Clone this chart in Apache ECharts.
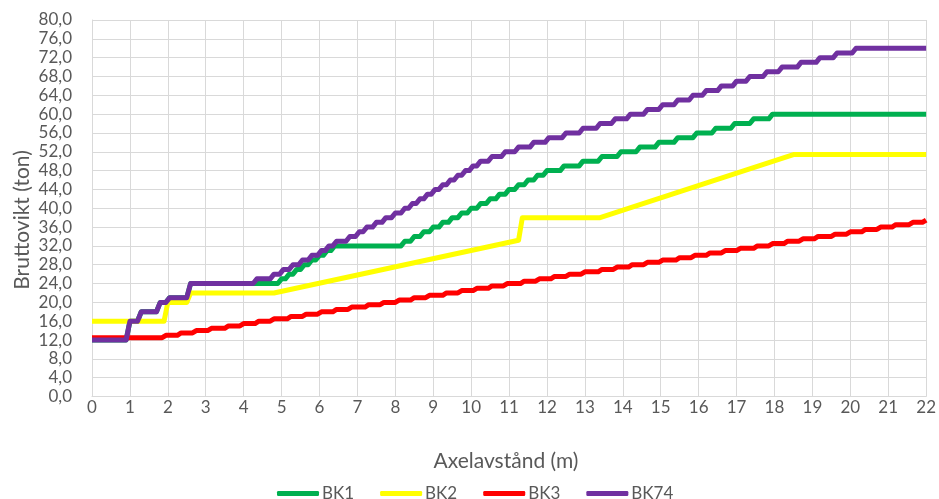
<!DOCTYPE html>
<html>
<head>
<meta charset="utf-8">
<script src="https://cdn.jsdelivr.net/npm/echarts@6.0.0/dist/echarts.min.js"></script>
<style>
  html, body { margin: 0; padding: 0; background: #ffffff; }
  #chart { width: 939px; height: 499px; }
</style>
</head>
<body>
<div id="chart"></div>
<script>
// Gross weight (ton) against axle spacing (m) for each bearing class.
// Each pair of arrays lists the spacing where a new weight starts and that weight.

const seriesNames = ['BK1', 'BK2', 'BK3', 'BK74'];

const bk1Dist = [0, 0.95, 1.25, 1.75, 2.0, 2.55,
  4.95, 5.15, 5.35, 5.55, 5.75, 5.95, 6.15, 6.35,
  8.2, 8.45, 8.7, 8.95, 9.2, 9.45, 9.7, 9.95, 10.2, 10.45, 10.7, 10.95, 11.2, 11.45, 11.7, 11.95,
  12.4, 12.9, 13.4, 13.9, 14.4, 14.9, 15.4, 15.9, 16.4, 16.9, 17.4, 17.9, 22];
const bk1Ton = [12, 16, 18, 20, 21, 24,
  25, 26, 27, 28, 29, 30, 31, 32,
  33, 34, 35, 36, 37, 38, 39, 40, 41, 42, 43, 44, 45, 46, 47, 48,
  49, 50, 51, 52, 53, 54, 55, 56, 57, 58, 59, 60, 60];

// BK2 is drawn as a straight polyline between these points
const bk2Dist = [0, 1.9, 2.0, 2.5, 2.6, 4.8, 11.25, 11.35, 13.4, 18.5, 22];
const bk2Ton  = [16, 16, 20, 20, 22, 22, 33.2, 38, 38, 51.4, 51.4];

const bk3Dist = [0, 1.9, 2.3, 2.7, 3.1, 3.55, 3.95, 4.35, 4.75, 5.2, 5.6,
  6.0, 6.4, 6.8, 7.25, 7.65, 8.05, 8.45, 8.85, 9.3, 9.7,
  10.1, 10.5, 10.9, 11.35, 11.75, 12.15, 12.55, 12.95, 13.4, 13.8,
  14.2, 14.6, 15.0, 15.45, 15.85, 16.25, 16.65, 17.05, 17.5, 17.9,
  18.3, 18.7, 19.1, 19.55, 19.95, 20.35, 20.75, 21.15, 21.6, 21.95, 22];
const bk3Ton = [12.5, 13, 13.5, 14, 14.5, 15, 15.5, 16, 16.5, 17, 17.5,
  18, 18.5, 19, 19.5, 20, 20.5, 21, 21.5, 22, 22.5,
  23, 23.5, 24, 24.5, 25, 25.5, 26, 26.5, 27, 27.5,
  28, 28.5, 29, 29.5, 30, 30.5, 31, 31.5, 32, 32.5,
  33, 33.5, 34, 34.5, 35, 35.5, 36, 36.5, 37, 37.5, 37.5];

const bk74Dist = [0, 0.95, 1.25, 1.75, 2.0, 2.55,
  4.3, 4.75, 5.0, 5.25, 5.5, 5.75, 6.0, 6.2, 6.4, 6.75, 7.0, 7.2, 7.45, 7.7, 7.95,
  8.2, 8.4, 8.6, 8.8, 9.0, 9.2, 9.4, 9.6, 9.8, 10.0, 10.2, 10.5, 10.85, 11.2, 11.6, 12.0,
  12.45, 12.9, 13.35, 13.75, 14.15, 14.6, 15.0, 15.4, 15.8, 16.15, 16.55, 16.95,
  17.3, 17.75, 18.15, 18.65, 19.15, 19.6, 20.1, 22];
const bk74Ton = [12, 16, 18, 20, 21, 24,
  25, 26, 27, 28, 29, 30, 31, 32, 33, 34, 35, 36, 37, 38, 39,
  40, 41, 42, 43, 44, 45, 46, 47, 48, 49, 50, 51, 52, 53, 54, 55,
  56, 57, 58, 59, 60, 61, 62, 63, 64, 65, 66, 67,
  68, 69, 70, 71, 72, 73, 74, 74];

const seriesColors = ['#00B050', '#FFFF00', '#FF0000', '#7030A0'];

const xMin = 0, xMax = 22, xStep = 1;
const yMin = 0, yMax = 80, yStep = 4;

const textColor = '#595959';
const gridColor = '#D9D9D9';
const fontFamily = 'Lato, "Open Sans", sans-serif';

// Table rows are sampled every 0.1 m, so a weight change shows as a short
// sloping riser spanning the sample interval around each breakpoint.
const riserHalf = 0.05;

function pairs(xs, ys) {
  return xs.map((x, i) => [x, ys[i]]);
}

function stepped(xs, ys) {
  const out = [[xs[0], ys[0]]];
  for (let i = 1; i < xs.length; i++) {
    if (ys[i] !== ys[i - 1]) {
      out.push([xs[i] - riserHalf, ys[i - 1]]);
      out.push([Math.min(xs[i] + riserHalf, xMax), ys[i]]);
    } else {
      out.push([xs[i], ys[i]]);
    }
  }
  return out;
}

const seriesData = [
  stepped(bk1Dist, bk1Ton),
  pairs(bk2Dist, bk2Ton),
  stepped(bk3Dist, bk3Ton),
  stepped(bk74Dist, bk74Ton)
];

const chart = echarts.init(document.getElementById('chart'), null, { renderer: 'canvas' });

chart.setOption({
  animation: false,
  backgroundColor: '#ffffff',
  grid: { left: 92, right: 9, top: 20, bottom: 102.5, containLabel: false },
  xAxis: {
    type: 'value',
    min: xMin, max: xMax, interval: xStep,
    axisLine: { show: true, lineStyle: { color: gridColor, width: 1 } },
    axisTick: { show: false },
    splitLine: { show: true, lineStyle: { color: gridColor, width: 1 } },
    axisLabel: { color: textColor, fontSize: 17, fontFamily: fontFamily, margin: 3 }
  },
  yAxis: {
    type: 'value',
    min: yMin, max: yMax, interval: yStep,
    axisLine: { show: true, lineStyle: { color: gridColor, width: 1 } },
    axisTick: { show: false },
    splitLine: { show: true, lineStyle: { color: gridColor, width: 1 } },
    axisLabel: {
      color: textColor, fontSize: 17, fontFamily: fontFamily, margin: 20,
      formatter: v => v.toFixed(1).replace('.', ',')
    }
  },
  legend: {
    data: seriesNames,
    left: 272,
    top: 480,
    icon: 'roundRect',
    itemWidth: 42,
    itemHeight: 5,
    itemGap: 26,
    textStyle: { color: textColor, fontSize: 17, fontFamily: fontFamily, padding: [0, 0, 0, -2] }
  },
  graphic: [
    {
      type: 'text',
      x: 22, y: 220,
      rotation: Math.PI / 2,
      style: {
        text: 'Bruttovikt (ton)', fill: textColor, fontSize: 21, fontFamily: fontFamily,
        align: 'center', verticalAlign: 'middle'
      }
    },
    {
      type: 'text',
      x: 506, y: 461,
      style: {
        text: 'Axelavstånd (m)', fill: textColor, fontSize: 21, fontFamily: fontFamily,
        align: 'center', verticalAlign: 'middle'
      }
    }
  ],
  series: seriesNames.map((name, i) => ({
    name: name,
    type: 'line',
    data: seriesData[i],
    showSymbol: false,
    symbol: 'none',
    clip: true,
    lineStyle: { color: seriesColors[i], width: 5, cap: 'butt', join: 'round' },
    itemStyle: { color: seriesColors[i] },
    emphasis: { disabled: true }
  }))
});
</script>
</body>
</html>
